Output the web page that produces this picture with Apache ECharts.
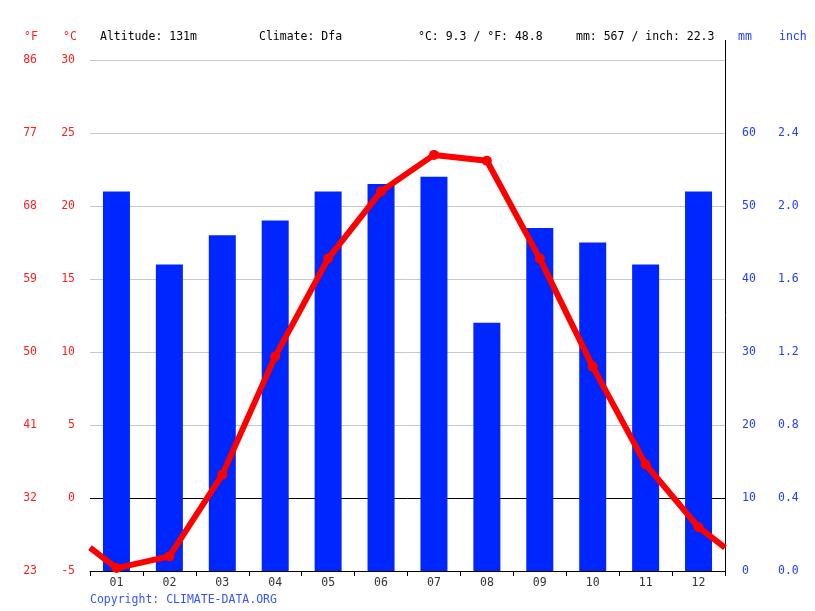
<!DOCTYPE html>
<html><head><meta charset="utf-8">
<script src="https://cdn.jsdelivr.net/npm/echarts@6/dist/echarts.min.js"></script>
<style>html,body{margin:0;padding:0;background:#fff}#c{width:815px;height:611px}</style>
</head><body><div id="c"></div>
<script>
var months = ['01','02','03','04','05','06','07','08','09','10','11','12'];
var precipMm = [52,42,46,48,52,53,54,34,47,45,42,52];
var tempC = [-4.8,-4.0,1.6,9.7,16.4,21.0,23.5,23.1,16.4,9.0,2.3,-2.0];
var headerTexts = ['Altitude: 131m','Climate: Dfa','°C: 9.3 / °F: 48.8','mm: 567 / inch: 22.3'];

var FONT = '"DejaVu Sans Mono", monospace';
var edge = (tempC[0] + tempC[11]) / 2;
var lineData = [{value:[0, edge], symbolSize:0}];
tempC.forEach(function(t,i){ lineData.push({value:[i+0.5, t]}); });
lineData.push({value:[12, edge], symbolSize:0});

var chart = echarts.init(document.getElementById('c'), null, {renderer:'canvas'});
var gray = '#c8c8c8';
chart.setOption({
  animation:false,
  backgroundColor:'#fff',
  grid:{left:90,right:90,top:60,bottom:40,containLabel:false},
  xAxis:[
    {type:'category',data:months,boundaryGap:true,position:'bottom',
     axisLine:{show:true,onZero:false,lineStyle:{color:'#000',width:1}},
     axisTick:{show:true,length:5,alignWithLabel:false,lineStyle:{color:'#000'}},
     axisLabel:{color:'#333',fontFamily:FONT,fontSize:11.5,margin:6},
     splitLine:{show:false}},
    {type:'value',min:0,max:12,show:false}
  ],
  yAxis:[
    {type:'value',min:-5,max:30,interval:5,position:'left',
     axisLine:{show:false},axisTick:{show:false},
     axisLabel:{color:'#ff2020',fontFamily:FONT,fontSize:11.5,margin:15},
     splitLine:{show:true,lineStyle:{color:[gray,'#000',gray,gray,gray,gray,gray,gray],width:1}}},
    {type:'value',min:-5,max:30,interval:5,position:'left',offset:38,
     axisLine:{show:false},axisTick:{show:false},
     axisLabel:{color:'#ff2020',fontFamily:FONT,fontSize:11.5,margin:15,
       formatter:function(v){return Math.round(v*9/5+32);}},
     splitLine:{show:false}},
    {type:'value',min:0,max:70,interval:10,position:'right',
     axisLine:{show:true,onZero:false,lineStyle:{color:'#000',width:1}},axisTick:{show:false},
     axisLabel:{color:'#2040ff',fontFamily:FONT,fontSize:11.5,margin:17,
       formatter:function(v){return v>=70?'':String(v);}},
     splitLine:{show:false}},
    {type:'value',min:0,max:70,interval:10,position:'right',offset:36,
     axisLine:{show:false},axisTick:{show:false},
     axisLabel:{color:'#2040ff',fontFamily:FONT,fontSize:11.5,margin:17,
       formatter:function(v){return v>=70?'':(v/25).toFixed(1);}},
     splitLine:{show:false}}
  ],
  series:[
    {type:'bar',xAxisIndex:0,yAxisIndex:2,data:precipMm,barWidth:27,
     itemStyle:{color:'#0026ff'},z:2},
    {type:'line',xAxisIndex:1,yAxisIndex:0,data:lineData,
     symbol:'circle',symbolSize:10,clip:true,
     lineStyle:{color:'#ff0000',width:6},itemStyle:{color:'#ff0000'},z:5}
  ],
  graphic:[
    {type:'line',shape:{x1:725.5,y1:40,x2:725.5,y2:60},style:{stroke:'#000',lineWidth:1}},
    {type:'text',left:24,top:31,style:{text:'°F',fill:'#ff2020',font:'11.5px '+FONT}},
    {type:'text',left:63,top:31,style:{text:'°C',fill:'#ff2020',font:'11.5px '+FONT}},
    {type:'text',left:100,top:31,style:{text:headerTexts[0],fill:'#000',font:'11.5px '+FONT}},
    {type:'text',left:259,top:31,style:{text:headerTexts[1],fill:'#000',font:'11.5px '+FONT}},
    {type:'text',left:418,top:31,style:{text:headerTexts[2],fill:'#000',font:'11.5px '+FONT}},
    {type:'text',left:576,top:31,style:{text:headerTexts[3],fill:'#000',font:'11.5px '+FONT}},
    {type:'text',left:738,top:31,style:{text:'mm',fill:'#2040ff',font:'11.5px '+FONT}},
    {type:'text',left:779,top:31,style:{text:'inch',fill:'#2040ff',font:'11.5px '+FONT}},
    {type:'text',left:90,top:594,style:{text:'Copyright: CLIMATE-DATA.ORG',fill:'#3355ff',font:'11.5px '+FONT}}
  ]
});
</script></body></html>
